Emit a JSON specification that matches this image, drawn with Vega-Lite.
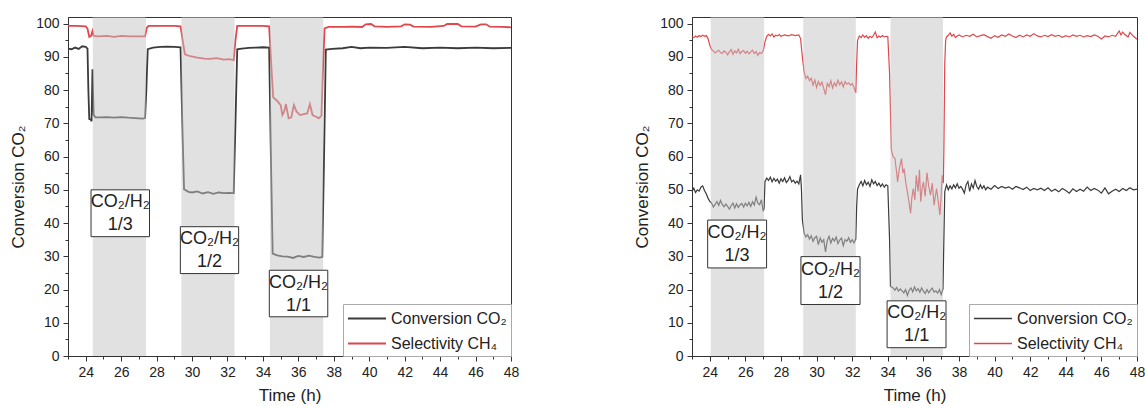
{
  "$schema": "https://vega.github.io/schema/vega-lite/v6.json",
  "padding": {"left": 9, "top": 16, "right": 5, "bottom": 2},
  "config": {
    "font": "Liberation Sans",
    "view": {"stroke": "#333", "strokeWidth": 1},
    "axis": {"labelFont": "Liberation Sans", "titleFont": "Liberation Sans", "labelFontSize": 14, "titleFontSize": 17, "titleFontWeight": "normal", "labelColor": "#222", "titleColor": "#222", "tickColor": "#333", "domainColor": "#333", "grid": false, "labelFlush": false, "labelOverlap": false},
    "legend": {"labelFont": "Liberation Sans"}
  },
  "datasets": {
    "left": [
      {"t":23.0,"v":92.5,"s":"Conversion CO₂"},{"t":23.2,"v":92.3,"s":"Conversion CO₂"},{"t":23.4,"v":92.8,"s":"Conversion CO₂"},{"t":23.6,"v":92.4,"s":"Conversion CO₂"},{"t":23.8,"v":93.2,"s":"Conversion CO₂"},{"t":24.0,"v":93.0,"s":"Conversion CO₂"},{"t":24.1,"v":92.5,"s":"Conversion CO₂"},{"t":24.15,"v":80,"s":"Conversion CO₂"},{"t":24.2,"v":71.3,"s":"Conversion CO₂"},{"t":24.28,"v":71.2,"s":"Conversion CO₂"},{"t":24.33,"v":70.6,"s":"Conversion CO₂"},{"t":24.38,"v":86.3,"s":"Conversion CO₂"},{"t":24.45,"v":72.5,"s":"Conversion CO₂"},{"t":24.55,"v":71.8,"s":"Conversion CO₂"},{"t":24.8,"v":71.8,"s":"Conversion CO₂"},{"t":25.2,"v":71.9,"s":"Conversion CO₂"},{"t":25.6,"v":71.7,"s":"Conversion CO₂"},{"t":26.0,"v":71.9,"s":"Conversion CO₂"},{"t":26.4,"v":71.7,"s":"Conversion CO₂"},{"t":26.8,"v":71.6,"s":"Conversion CO₂"},{"t":27.2,"v":71.4,"s":"Conversion CO₂"},{"t":27.35,"v":71.6,"s":"Conversion CO₂"},{"t":27.42,"v":80,"s":"Conversion CO₂"},{"t":27.5,"v":92.3,"s":"Conversion CO₂"},{"t":27.8,"v":92.8,"s":"Conversion CO₂"},{"t":28.2,"v":93.0,"s":"Conversion CO₂"},{"t":28.6,"v":93.1,"s":"Conversion CO₂"},{"t":29.0,"v":93.0,"s":"Conversion CO₂"},{"t":29.35,"v":92.9,"s":"Conversion CO₂"},{"t":29.45,"v":70,"s":"Conversion CO₂"},{"t":29.55,"v":50.2,"s":"Conversion CO₂"},{"t":29.8,"v":49.4,"s":"Conversion CO₂"},{"t":30.0,"v":49.2,"s":"Conversion CO₂"},{"t":30.3,"v":49.5,"s":"Conversion CO₂"},{"t":30.6,"v":48.9,"s":"Conversion CO₂"},{"t":30.9,"v":49.3,"s":"Conversion CO₂"},{"t":31.2,"v":48.8,"s":"Conversion CO₂"},{"t":31.5,"v":49.2,"s":"Conversion CO₂"},{"t":31.8,"v":49.0,"s":"Conversion CO₂"},{"t":32.1,"v":49.1,"s":"Conversion CO₂"},{"t":32.35,"v":49.0,"s":"Conversion CO₂"},{"t":32.45,"v":70,"s":"Conversion CO₂"},{"t":32.55,"v":92.3,"s":"Conversion CO₂"},{"t":32.8,"v":92.5,"s":"Conversion CO₂"},{"t":33.2,"v":92.7,"s":"Conversion CO₂"},{"t":33.6,"v":92.8,"s":"Conversion CO₂"},{"t":34.0,"v":92.9,"s":"Conversion CO₂"},{"t":34.35,"v":92.8,"s":"Conversion CO₂"},{"t":34.45,"v":60,"s":"Conversion CO₂"},{"t":34.55,"v":30.8,"s":"Conversion CO₂"},{"t":34.8,"v":30.3,"s":"Conversion CO₂"},{"t":35.1,"v":30.0,"s":"Conversion CO₂"},{"t":35.4,"v":29.9,"s":"Conversion CO₂"},{"t":35.7,"v":29.5,"s":"Conversion CO₂"},{"t":36.0,"v":30.1,"s":"Conversion CO₂"},{"t":36.3,"v":29.8,"s":"Conversion CO₂"},{"t":36.6,"v":30.2,"s":"Conversion CO₂"},{"t":36.9,"v":29.8,"s":"Conversion CO₂"},{"t":37.2,"v":29.6,"s":"Conversion CO₂"},{"t":37.35,"v":29.8,"s":"Conversion CO₂"},{"t":37.45,"v":60,"s":"Conversion CO₂"},{"t":37.55,"v":92.2,"s":"Conversion CO₂"},{"t":37.9,"v":92.4,"s":"Conversion CO₂"},{"t":38.5,"v":92.6,"s":"Conversion CO₂"},{"t":39.0,"v":93.0,"s":"Conversion CO₂"},{"t":39.5,"v":92.6,"s":"Conversion CO₂"},{"t":40.0,"v":92.8,"s":"Conversion CO₂"},{"t":41.0,"v":92.7,"s":"Conversion CO₂"},{"t":42.0,"v":93.0,"s":"Conversion CO₂"},{"t":43.0,"v":92.6,"s":"Conversion CO₂"},{"t":44.0,"v":92.8,"s":"Conversion CO₂"},{"t":45.0,"v":92.6,"s":"Conversion CO₂"},{"t":46.0,"v":92.8,"s":"Conversion CO₂"},{"t":47.0,"v":92.6,"s":"Conversion CO₂"},{"t":48.0,"v":92.7,"s":"Conversion CO₂"},
      {"t":23.0,"v":99.3,"s":"Selectivity CH₄"},{"t":23.5,"v":99.3,"s":"Selectivity CH₄"},{"t":24.0,"v":99.2,"s":"Selectivity CH₄"},{"t":24.1,"v":98.5,"s":"Selectivity CH₄"},{"t":24.2,"v":96.0,"s":"Selectivity CH₄"},{"t":24.3,"v":96.3,"s":"Selectivity CH₄"},{"t":24.38,"v":97.8,"s":"Selectivity CH₄"},{"t":24.45,"v":96.3,"s":"Selectivity CH₄"},{"t":24.7,"v":96.2,"s":"Selectivity CH₄"},{"t":25.2,"v":96.3,"s":"Selectivity CH₄"},{"t":25.6,"v":96.0,"s":"Selectivity CH₄"},{"t":26.0,"v":96.3,"s":"Selectivity CH₄"},{"t":26.5,"v":96.2,"s":"Selectivity CH₄"},{"t":27.0,"v":96.2,"s":"Selectivity CH₄"},{"t":27.35,"v":96.2,"s":"Selectivity CH₄"},{"t":27.45,"v":98.8,"s":"Selectivity CH₄"},{"t":27.55,"v":99.3,"s":"Selectivity CH₄"},{"t":28.0,"v":99.3,"s":"Selectivity CH₄"},{"t":28.5,"v":99.3,"s":"Selectivity CH₄"},{"t":29.0,"v":99.3,"s":"Selectivity CH₄"},{"t":29.35,"v":99.2,"s":"Selectivity CH₄"},{"t":29.5,"v":94,"s":"Selectivity CH₄"},{"t":29.6,"v":90.8,"s":"Selectivity CH₄"},{"t":29.9,"v":90.2,"s":"Selectivity CH₄"},{"t":30.3,"v":89.8,"s":"Selectivity CH₄"},{"t":30.7,"v":89.5,"s":"Selectivity CH₄"},{"t":31.0,"v":89.4,"s":"Selectivity CH₄"},{"t":31.4,"v":89.6,"s":"Selectivity CH₄"},{"t":31.8,"v":89.2,"s":"Selectivity CH₄"},{"t":32.1,"v":89.3,"s":"Selectivity CH₄"},{"t":32.35,"v":89.0,"s":"Selectivity CH₄"},{"t":32.45,"v":95,"s":"Selectivity CH₄"},{"t":32.55,"v":99.3,"s":"Selectivity CH₄"},{"t":33.0,"v":99.3,"s":"Selectivity CH₄"},{"t":33.5,"v":99.3,"s":"Selectivity CH₄"},{"t":34.0,"v":99.3,"s":"Selectivity CH₄"},{"t":34.35,"v":99.2,"s":"Selectivity CH₄"},{"t":34.5,"v":85,"s":"Selectivity CH₄"},{"t":34.58,"v":77.8,"s":"Selectivity CH₄"},{"t":34.8,"v":76.8,"s":"Selectivity CH₄"},{"t":35.0,"v":75.5,"s":"Selectivity CH₄"},{"t":35.1,"v":72.5,"s":"Selectivity CH₄"},{"t":35.2,"v":73.5,"s":"Selectivity CH₄"},{"t":35.3,"v":75.8,"s":"Selectivity CH₄"},{"t":35.45,"v":71.5,"s":"Selectivity CH₄"},{"t":35.6,"v":71.8,"s":"Selectivity CH₄"},{"t":35.75,"v":75.5,"s":"Selectivity CH₄"},{"t":35.9,"v":73.5,"s":"Selectivity CH₄"},{"t":36.1,"v":72.5,"s":"Selectivity CH₄"},{"t":36.3,"v":72.8,"s":"Selectivity CH₄"},{"t":36.5,"v":73.0,"s":"Selectivity CH₄"},{"t":36.65,"v":75.8,"s":"Selectivity CH₄"},{"t":36.8,"v":72.5,"s":"Selectivity CH₄"},{"t":37.0,"v":72.0,"s":"Selectivity CH₄"},{"t":37.15,"v":71.5,"s":"Selectivity CH₄"},{"t":37.3,"v":72.3,"s":"Selectivity CH₄"},{"t":37.38,"v":85,"s":"Selectivity CH₄"},{"t":37.48,"v":98.6,"s":"Selectivity CH₄"},{"t":37.7,"v":99.0,"s":"Selectivity CH₄"},{"t":38.5,"v":99.0,"s":"Selectivity CH₄"},{"t":39.0,"v":99.1,"s":"Selectivity CH₄"},{"t":39.6,"v":99.0,"s":"Selectivity CH₄"},{"t":39.8,"v":99.8,"s":"Selectivity CH₄"},{"t":40.1,"v":99.9,"s":"Selectivity CH₄"},{"t":40.3,"v":99.2,"s":"Selectivity CH₄"},{"t":41.0,"v":99.0,"s":"Selectivity CH₄"},{"t":41.8,"v":99.2,"s":"Selectivity CH₄"},{"t":42.0,"v":99.8,"s":"Selectivity CH₄"},{"t":42.3,"v":99.7,"s":"Selectivity CH₄"},{"t":42.5,"v":99.1,"s":"Selectivity CH₄"},{"t":43.5,"v":99.0,"s":"Selectivity CH₄"},{"t":44.2,"v":99.3,"s":"Selectivity CH₄"},{"t":44.4,"v":99.9,"s":"Selectivity CH₄"},{"t":45.0,"v":99.9,"s":"Selectivity CH₄"},{"t":45.2,"v":99.2,"s":"Selectivity CH₄"},{"t":46.0,"v":99.1,"s":"Selectivity CH₄"},{"t":46.3,"v":99.8,"s":"Selectivity CH₄"},{"t":46.6,"v":99.8,"s":"Selectivity CH₄"},{"t":46.8,"v":99.1,"s":"Selectivity CH₄"},{"t":47.5,"v":99.0,"s":"Selectivity CH₄"},{"t":48.0,"v":98.9,"s":"Selectivity CH₄"}
    ],
    "right": [
      {"t":23.0,"v":49.5,"s":"Conversion CO₂"},{"t":23.1,"v":50.5,"s":"Conversion CO₂"},{"t":23.2,"v":49.2,"s":"Conversion CO₂"},{"t":23.3,"v":50.0,"s":"Conversion CO₂"},{"t":23.4,"v":49.6,"s":"Conversion CO₂"},{"t":23.5,"v":50.8,"s":"Conversion CO₂"},{"t":23.6,"v":51.2,"s":"Conversion CO₂"},{"t":23.7,"v":49.8,"s":"Conversion CO₂"},{"t":23.8,"v":48.8,"s":"Conversion CO₂"},{"t":23.9,"v":47.5,"s":"Conversion CO₂"},{"t":24.0,"v":46.5,"s":"Conversion CO₂"},{"t":24.1,"v":46.0,"s":"Conversion CO₂"},{"t":24.2,"v":44.8,"s":"Conversion CO₂"},{"t":24.3,"v":45.6,"s":"Conversion CO₂"},{"t":24.4,"v":46.5,"s":"Conversion CO₂"},{"t":24.5,"v":45.3,"s":"Conversion CO₂"},{"t":24.6,"v":46.8,"s":"Conversion CO₂"},{"t":24.7,"v":45.6,"s":"Conversion CO₂"},{"t":24.8,"v":44.9,"s":"Conversion CO₂"},{"t":24.9,"v":45.7,"s":"Conversion CO₂"},{"t":25.0,"v":45.0,"s":"Conversion CO₂"},{"t":25.1,"v":44.2,"s":"Conversion CO₂"},{"t":25.2,"v":45.2,"s":"Conversion CO₂"},{"t":25.3,"v":46.0,"s":"Conversion CO₂"},{"t":25.4,"v":44.5,"s":"Conversion CO₂"},{"t":25.5,"v":45.8,"s":"Conversion CO₂"},{"t":25.6,"v":44.7,"s":"Conversion CO₂"},{"t":25.7,"v":45.5,"s":"Conversion CO₂"},{"t":25.8,"v":45.9,"s":"Conversion CO₂"},{"t":25.9,"v":44.8,"s":"Conversion CO₂"},{"t":26.0,"v":46.0,"s":"Conversion CO₂"},{"t":26.1,"v":45.2,"s":"Conversion CO₂"},{"t":26.2,"v":46.2,"s":"Conversion CO₂"},{"t":26.3,"v":45.0,"s":"Conversion CO₂"},{"t":26.4,"v":46.4,"s":"Conversion CO₂"},{"t":26.5,"v":45.4,"s":"Conversion CO₂"},{"t":26.6,"v":47.8,"s":"Conversion CO₂"},{"t":26.7,"v":46.0,"s":"Conversion CO₂"},{"t":26.8,"v":45.5,"s":"Conversion CO₂"},{"t":26.9,"v":47.0,"s":"Conversion CO₂"},{"t":27.0,"v":43.5,"s":"Conversion CO₂"},{"t":27.05,"v":44.5,"s":"Conversion CO₂"},{"t":27.1,"v":52.5,"s":"Conversion CO₂"},{"t":27.2,"v":53.5,"s":"Conversion CO₂"},{"t":27.3,"v":52.8,"s":"Conversion CO₂"},{"t":27.4,"v":53.8,"s":"Conversion CO₂"},{"t":27.5,"v":52.4,"s":"Conversion CO₂"},{"t":27.6,"v":53.5,"s":"Conversion CO₂"},{"t":27.7,"v":52.6,"s":"Conversion CO₂"},{"t":27.8,"v":53.2,"s":"Conversion CO₂"},{"t":27.9,"v":52.0,"s":"Conversion CO₂"},{"t":28.0,"v":53.3,"s":"Conversion CO₂"},{"t":28.1,"v":52.5,"s":"Conversion CO₂"},{"t":28.2,"v":53.6,"s":"Conversion CO₂"},{"t":28.3,"v":52.2,"s":"Conversion CO₂"},{"t":28.4,"v":52.8,"s":"Conversion CO₂"},{"t":28.5,"v":54.0,"s":"Conversion CO₂"},{"t":28.6,"v":52.4,"s":"Conversion CO₂"},{"t":28.7,"v":52.9,"s":"Conversion CO₂"},{"t":28.8,"v":52.0,"s":"Conversion CO₂"},{"t":28.9,"v":52.6,"s":"Conversion CO₂"},{"t":29.0,"v":51.8,"s":"Conversion CO₂"},{"t":29.1,"v":54.5,"s":"Conversion CO₂"},{"t":29.15,"v":50.0,"s":"Conversion CO₂"},{"t":29.2,"v":41.0,"s":"Conversion CO₂"},{"t":29.3,"v":37.0,"s":"Conversion CO₂"},{"t":29.4,"v":35.8,"s":"Conversion CO₂"},{"t":29.5,"v":36.5,"s":"Conversion CO₂"},{"t":29.6,"v":35.2,"s":"Conversion CO₂"},{"t":29.7,"v":36.2,"s":"Conversion CO₂"},{"t":29.8,"v":34.5,"s":"Conversion CO₂"},{"t":29.9,"v":35.6,"s":"Conversion CO₂"},{"t":30.0,"v":36.0,"s":"Conversion CO₂"},{"t":30.1,"v":33.5,"s":"Conversion CO₂"},{"t":30.2,"v":35.5,"s":"Conversion CO₂"},{"t":30.3,"v":34.2,"s":"Conversion CO₂"},{"t":30.4,"v":35.0,"s":"Conversion CO₂"},{"t":30.5,"v":31.3,"s":"Conversion CO₂"},{"t":30.6,"v":34.8,"s":"Conversion CO₂"},{"t":30.7,"v":36.0,"s":"Conversion CO₂"},{"t":30.8,"v":34.0,"s":"Conversion CO₂"},{"t":30.9,"v":35.4,"s":"Conversion CO₂"},{"t":31.0,"v":34.6,"s":"Conversion CO₂"},{"t":31.1,"v":35.8,"s":"Conversion CO₂"},{"t":31.2,"v":33.8,"s":"Conversion CO₂"},{"t":31.3,"v":34.9,"s":"Conversion CO₂"},{"t":31.4,"v":35.5,"s":"Conversion CO₂"},{"t":31.5,"v":33.2,"s":"Conversion CO₂"},{"t":31.6,"v":35.0,"s":"Conversion CO₂"},{"t":31.7,"v":34.5,"s":"Conversion CO₂"},{"t":31.8,"v":35.6,"s":"Conversion CO₂"},{"t":31.9,"v":34.2,"s":"Conversion CO₂"},{"t":32.0,"v":35.0,"s":"Conversion CO₂"},{"t":32.1,"v":34.0,"s":"Conversion CO₂"},{"t":32.2,"v":35.2,"s":"Conversion CO₂"},{"t":32.25,"v":45.0,"s":"Conversion CO₂"},{"t":32.3,"v":50.2,"s":"Conversion CO₂"},{"t":32.4,"v":51.5,"s":"Conversion CO₂"},{"t":32.5,"v":52.5,"s":"Conversion CO₂"},{"t":32.6,"v":51.2,"s":"Conversion CO₂"},{"t":32.7,"v":52.8,"s":"Conversion CO₂"},{"t":32.8,"v":51.5,"s":"Conversion CO₂"},{"t":32.9,"v":52.3,"s":"Conversion CO₂"},{"t":33.0,"v":51.0,"s":"Conversion CO₂"},{"t":33.1,"v":53.0,"s":"Conversion CO₂"},{"t":33.2,"v":51.8,"s":"Conversion CO₂"},{"t":33.3,"v":52.5,"s":"Conversion CO₂"},{"t":33.4,"v":51.3,"s":"Conversion CO₂"},{"t":33.5,"v":52.0,"s":"Conversion CO₂"},{"t":33.6,"v":51.0,"s":"Conversion CO₂"},{"t":33.7,"v":51.8,"s":"Conversion CO₂"},{"t":33.8,"v":50.8,"s":"Conversion CO₂"},{"t":33.9,"v":51.5,"s":"Conversion CO₂"},{"t":34.0,"v":51.2,"s":"Conversion CO₂"},{"t":34.1,"v":35.0,"s":"Conversion CO₂"},{"t":34.15,"v":21.0,"s":"Conversion CO₂"},{"t":34.3,"v":20.5,"s":"Conversion CO₂"},{"t":34.4,"v":19.8,"s":"Conversion CO₂"},{"t":34.5,"v":20.6,"s":"Conversion CO₂"},{"t":34.6,"v":19.5,"s":"Conversion CO₂"},{"t":34.7,"v":20.2,"s":"Conversion CO₂"},{"t":34.8,"v":19.6,"s":"Conversion CO₂"},{"t":34.9,"v":19.0,"s":"Conversion CO₂"},{"t":35.0,"v":20.0,"s":"Conversion CO₂"},{"t":35.1,"v":18.2,"s":"Conversion CO₂"},{"t":35.2,"v":19.8,"s":"Conversion CO₂"},{"t":35.3,"v":20.5,"s":"Conversion CO₂"},{"t":35.4,"v":19.3,"s":"Conversion CO₂"},{"t":35.5,"v":20.8,"s":"Conversion CO₂"},{"t":35.6,"v":19.6,"s":"Conversion CO₂"},{"t":35.7,"v":20.3,"s":"Conversion CO₂"},{"t":35.8,"v":19.2,"s":"Conversion CO₂"},{"t":35.9,"v":20.5,"s":"Conversion CO₂"},{"t":36.0,"v":19.5,"s":"Conversion CO₂"},{"t":36.1,"v":18.8,"s":"Conversion CO₂"},{"t":36.2,"v":20.0,"s":"Conversion CO₂"},{"t":36.3,"v":19.0,"s":"Conversion CO₂"},{"t":36.4,"v":19.8,"s":"Conversion CO₂"},{"t":36.5,"v":20.4,"s":"Conversion CO₂"},{"t":36.6,"v":19.2,"s":"Conversion CO₂"},{"t":36.7,"v":19.6,"s":"Conversion CO₂"},{"t":36.8,"v":18.9,"s":"Conversion CO₂"},{"t":36.9,"v":20.0,"s":"Conversion CO₂"},{"t":37.0,"v":18.5,"s":"Conversion CO₂"},{"t":37.1,"v":20.2,"s":"Conversion CO₂"},{"t":37.15,"v":35.0,"s":"Conversion CO₂"},{"t":37.2,"v":49.5,"s":"Conversion CO₂"},{"t":37.3,"v":51.5,"s":"Conversion CO₂"},{"t":37.4,"v":50.0,"s":"Conversion CO₂"},{"t":37.5,"v":51.2,"s":"Conversion CO₂"},{"t":37.6,"v":50.3,"s":"Conversion CO₂"},{"t":37.7,"v":51.5,"s":"Conversion CO₂"},{"t":37.8,"v":50.6,"s":"Conversion CO₂"},{"t":37.9,"v":51.8,"s":"Conversion CO₂"},{"t":38.0,"v":50.5,"s":"Conversion CO₂"},{"t":38.1,"v":51.0,"s":"Conversion CO₂"},{"t":38.2,"v":50.2,"s":"Conversion CO₂"},{"t":38.3,"v":49.0,"s":"Conversion CO₂"},{"t":38.4,"v":51.5,"s":"Conversion CO₂"},{"t":38.5,"v":52.5,"s":"Conversion CO₂"},{"t":38.6,"v":49.5,"s":"Conversion CO₂"},{"t":38.7,"v":51.8,"s":"Conversion CO₂"},{"t":38.8,"v":50.5,"s":"Conversion CO₂"},{"t":38.9,"v":52.8,"s":"Conversion CO₂"},{"t":39.0,"v":51.0,"s":"Conversion CO₂"},{"t":39.1,"v":50.2,"s":"Conversion CO₂"},{"t":39.2,"v":51.5,"s":"Conversion CO₂"},{"t":39.3,"v":50.4,"s":"Conversion CO₂"},{"t":39.4,"v":51.2,"s":"Conversion CO₂"},{"t":39.5,"v":50.0,"s":"Conversion CO₂"},{"t":39.6,"v":50.8,"s":"Conversion CO₂"},{"t":39.8,"v":50.2,"s":"Conversion CO₂"},{"t":40.0,"v":51.3,"s":"Conversion CO₂"},{"t":40.2,"v":50.4,"s":"Conversion CO₂"},{"t":40.4,"v":51.0,"s":"Conversion CO₂"},{"t":40.6,"v":50.5,"s":"Conversion CO₂"},{"t":40.8,"v":50.9,"s":"Conversion CO₂"},{"t":41.0,"v":50.2,"s":"Conversion CO₂"},{"t":41.2,"v":51.0,"s":"Conversion CO₂"},{"t":41.4,"v":50.6,"s":"Conversion CO₂"},{"t":41.6,"v":50.1,"s":"Conversion CO₂"},{"t":41.8,"v":50.8,"s":"Conversion CO₂"},{"t":42.0,"v":49.8,"s":"Conversion CO₂"},{"t":42.2,"v":50.4,"s":"Conversion CO₂"},{"t":42.4,"v":50.0,"s":"Conversion CO₂"},{"t":42.6,"v":50.5,"s":"Conversion CO₂"},{"t":42.8,"v":49.8,"s":"Conversion CO₂"},{"t":43.0,"v":50.6,"s":"Conversion CO₂"},{"t":43.2,"v":49.6,"s":"Conversion CO₂"},{"t":43.4,"v":50.2,"s":"Conversion CO₂"},{"t":43.6,"v":49.4,"s":"Conversion CO₂"},{"t":43.8,"v":50.4,"s":"Conversion CO₂"},{"t":44.0,"v":49.8,"s":"Conversion CO₂"},{"t":44.2,"v":49.0,"s":"Conversion CO₂"},{"t":44.4,"v":50.3,"s":"Conversion CO₂"},{"t":44.6,"v":49.5,"s":"Conversion CO₂"},{"t":44.8,"v":50.2,"s":"Conversion CO₂"},{"t":45.0,"v":49.6,"s":"Conversion CO₂"},{"t":45.2,"v":50.8,"s":"Conversion CO₂"},{"t":45.4,"v":49.8,"s":"Conversion CO₂"},{"t":45.6,"v":50.4,"s":"Conversion CO₂"},{"t":45.8,"v":49.9,"s":"Conversion CO₂"},{"t":46.0,"v":49.0,"s":"Conversion CO₂"},{"t":46.2,"v":50.6,"s":"Conversion CO₂"},{"t":46.4,"v":48.8,"s":"Conversion CO₂"},{"t":46.6,"v":49.6,"s":"Conversion CO₂"},{"t":46.8,"v":50.2,"s":"Conversion CO₂"},{"t":47.0,"v":49.5,"s":"Conversion CO₂"},{"t":47.2,"v":50.4,"s":"Conversion CO₂"},{"t":47.4,"v":49.8,"s":"Conversion CO₂"},{"t":47.6,"v":50.6,"s":"Conversion CO₂"},{"t":47.8,"v":50.0,"s":"Conversion CO₂"},{"t":48.0,"v":50.2,"s":"Conversion CO₂"},
      {"t":23.0,"v":96.0,"s":"Selectivity CH₄"},{"t":23.1,"v":95.8,"s":"Selectivity CH₄"},{"t":23.2,"v":96.3,"s":"Selectivity CH₄"},{"t":23.3,"v":95.9,"s":"Selectivity CH₄"},{"t":23.4,"v":96.4,"s":"Selectivity CH₄"},{"t":23.5,"v":96.1,"s":"Selectivity CH₄"},{"t":23.6,"v":96.5,"s":"Selectivity CH₄"},{"t":23.7,"v":96.2,"s":"Selectivity CH₄"},{"t":23.8,"v":96.4,"s":"Selectivity CH₄"},{"t":23.9,"v":95.5,"s":"Selectivity CH₄"},{"t":24.0,"v":93.5,"s":"Selectivity CH₄"},{"t":24.1,"v":92.2,"s":"Selectivity CH₄"},{"t":24.2,"v":91.8,"s":"Selectivity CH₄"},{"t":24.3,"v":91.2,"s":"Selectivity CH₄"},{"t":24.4,"v":91.6,"s":"Selectivity CH₄"},{"t":24.5,"v":92.0,"s":"Selectivity CH₄"},{"t":24.6,"v":91.3,"s":"Selectivity CH₄"},{"t":24.7,"v":91.0,"s":"Selectivity CH₄"},{"t":24.8,"v":91.8,"s":"Selectivity CH₄"},{"t":24.9,"v":91.4,"s":"Selectivity CH₄"},{"t":25.0,"v":90.6,"s":"Selectivity CH₄"},{"t":25.1,"v":91.5,"s":"Selectivity CH₄"},{"t":25.2,"v":92.2,"s":"Selectivity CH₄"},{"t":25.3,"v":90.8,"s":"Selectivity CH₄"},{"t":25.4,"v":91.8,"s":"Selectivity CH₄"},{"t":25.5,"v":91.2,"s":"Selectivity CH₄"},{"t":25.6,"v":92.3,"s":"Selectivity CH₄"},{"t":25.7,"v":91.0,"s":"Selectivity CH₄"},{"t":25.8,"v":91.6,"s":"Selectivity CH₄"},{"t":25.9,"v":91.9,"s":"Selectivity CH₄"},{"t":26.0,"v":91.1,"s":"Selectivity CH₄"},{"t":26.1,"v":91.7,"s":"Selectivity CH₄"},{"t":26.2,"v":90.9,"s":"Selectivity CH₄"},{"t":26.3,"v":91.5,"s":"Selectivity CH₄"},{"t":26.4,"v":92.0,"s":"Selectivity CH₄"},{"t":26.5,"v":91.0,"s":"Selectivity CH₄"},{"t":26.6,"v":91.6,"s":"Selectivity CH₄"},{"t":26.7,"v":90.5,"s":"Selectivity CH₄"},{"t":26.8,"v":91.3,"s":"Selectivity CH₄"},{"t":26.9,"v":91.0,"s":"Selectivity CH₄"},{"t":27.0,"v":91.8,"s":"Selectivity CH₄"},{"t":27.1,"v":94.5,"s":"Selectivity CH₄"},{"t":27.2,"v":96.2,"s":"Selectivity CH₄"},{"t":27.3,"v":96.8,"s":"Selectivity CH₄"},{"t":27.4,"v":96.3,"s":"Selectivity CH₄"},{"t":27.5,"v":96.9,"s":"Selectivity CH₄"},{"t":27.6,"v":96.0,"s":"Selectivity CH₄"},{"t":27.7,"v":96.5,"s":"Selectivity CH₄"},{"t":27.8,"v":96.3,"s":"Selectivity CH₄"},{"t":27.9,"v":96.7,"s":"Selectivity CH₄"},{"t":28.0,"v":96.2,"s":"Selectivity CH₄"},{"t":28.2,"v":96.6,"s":"Selectivity CH₄"},{"t":28.4,"v":96.3,"s":"Selectivity CH₄"},{"t":28.6,"v":96.7,"s":"Selectivity CH₄"},{"t":28.8,"v":96.4,"s":"Selectivity CH₄"},{"t":29.0,"v":96.6,"s":"Selectivity CH₄"},{"t":29.1,"v":95.5,"s":"Selectivity CH₄"},{"t":29.2,"v":90.0,"s":"Selectivity CH₄"},{"t":29.3,"v":85.5,"s":"Selectivity CH₄"},{"t":29.4,"v":83.5,"s":"Selectivity CH₄"},{"t":29.5,"v":84.2,"s":"Selectivity CH₄"},{"t":29.6,"v":82.8,"s":"Selectivity CH₄"},{"t":29.7,"v":83.6,"s":"Selectivity CH₄"},{"t":29.8,"v":81.5,"s":"Selectivity CH₄"},{"t":29.9,"v":83.0,"s":"Selectivity CH₄"},{"t":30.0,"v":80.8,"s":"Selectivity CH₄"},{"t":30.1,"v":82.6,"s":"Selectivity CH₄"},{"t":30.2,"v":81.4,"s":"Selectivity CH₄"},{"t":30.3,"v":82.4,"s":"Selectivity CH₄"},{"t":30.4,"v":80.5,"s":"Selectivity CH₄"},{"t":30.5,"v":78.6,"s":"Selectivity CH₄"},{"t":30.6,"v":82.0,"s":"Selectivity CH₄"},{"t":30.7,"v":81.0,"s":"Selectivity CH₄"},{"t":30.8,"v":82.8,"s":"Selectivity CH₄"},{"t":30.9,"v":80.6,"s":"Selectivity CH₄"},{"t":31.0,"v":82.2,"s":"Selectivity CH₄"},{"t":31.1,"v":81.2,"s":"Selectivity CH₄"},{"t":31.2,"v":83.0,"s":"Selectivity CH₄"},{"t":31.3,"v":81.6,"s":"Selectivity CH₄"},{"t":31.4,"v":82.5,"s":"Selectivity CH₄"},{"t":31.5,"v":81.0,"s":"Selectivity CH₄"},{"t":31.6,"v":82.6,"s":"Selectivity CH₄"},{"t":31.7,"v":81.8,"s":"Selectivity CH₄"},{"t":31.8,"v":82.2,"s":"Selectivity CH₄"},{"t":31.9,"v":81.5,"s":"Selectivity CH₄"},{"t":32.0,"v":82.0,"s":"Selectivity CH₄"},{"t":32.1,"v":80.8,"s":"Selectivity CH₄"},{"t":32.2,"v":79.2,"s":"Selectivity CH₄"},{"t":32.25,"v":88.0,"s":"Selectivity CH₄"},{"t":32.3,"v":95.0,"s":"Selectivity CH₄"},{"t":32.4,"v":96.3,"s":"Selectivity CH₄"},{"t":32.5,"v":95.8,"s":"Selectivity CH₄"},{"t":32.6,"v":96.6,"s":"Selectivity CH₄"},{"t":32.7,"v":95.9,"s":"Selectivity CH₄"},{"t":32.8,"v":96.4,"s":"Selectivity CH₄"},{"t":32.9,"v":95.6,"s":"Selectivity CH₄"},{"t":33.0,"v":96.2,"s":"Selectivity CH₄"},{"t":33.1,"v":95.8,"s":"Selectivity CH₄"},{"t":33.2,"v":96.5,"s":"Selectivity CH₄"},{"t":33.3,"v":97.5,"s":"Selectivity CH₄"},{"t":33.4,"v":95.8,"s":"Selectivity CH₄"},{"t":33.5,"v":96.3,"s":"Selectivity CH₄"},{"t":33.6,"v":95.9,"s":"Selectivity CH₄"},{"t":33.7,"v":96.4,"s":"Selectivity CH₄"},{"t":33.8,"v":96.0,"s":"Selectivity CH₄"},{"t":33.9,"v":96.2,"s":"Selectivity CH₄"},{"t":34.0,"v":96.1,"s":"Selectivity CH₄"},{"t":34.1,"v":85.0,"s":"Selectivity CH₄"},{"t":34.2,"v":62.0,"s":"Selectivity CH₄"},{"t":34.3,"v":60.0,"s":"Selectivity CH₄"},{"t":34.4,"v":59.5,"s":"Selectivity CH₄"},{"t":34.5,"v":55.0,"s":"Selectivity CH₄"},{"t":34.55,"v":52.4,"s":"Selectivity CH₄"},{"t":34.65,"v":56.5,"s":"Selectivity CH₄"},{"t":34.77,"v":59.4,"s":"Selectivity CH₄"},{"t":34.85,"v":55.0,"s":"Selectivity CH₄"},{"t":34.92,"v":56.4,"s":"Selectivity CH₄"},{"t":35.0,"v":52.5,"s":"Selectivity CH₄"},{"t":35.1,"v":49.4,"s":"Selectivity CH₄"},{"t":35.2,"v":46.0,"s":"Selectivity CH₄"},{"t":35.28,"v":42.9,"s":"Selectivity CH₄"},{"t":35.35,"v":47.5,"s":"Selectivity CH₄"},{"t":35.43,"v":50.4,"s":"Selectivity CH₄"},{"t":35.52,"v":47.0,"s":"Selectivity CH₄"},{"t":35.6,"v":54.4,"s":"Selectivity CH₄"},{"t":35.7,"v":49.5,"s":"Selectivity CH₄"},{"t":35.78,"v":56.0,"s":"Selectivity CH₄"},{"t":35.85,"v":46.4,"s":"Selectivity CH₄"},{"t":35.93,"v":50.5,"s":"Selectivity CH₄"},{"t":36.0,"v":52.4,"s":"Selectivity CH₄"},{"t":36.1,"v":48.0,"s":"Selectivity CH₄"},{"t":36.2,"v":55.2,"s":"Selectivity CH₄"},{"t":36.3,"v":51.0,"s":"Selectivity CH₄"},{"t":36.4,"v":48.4,"s":"Selectivity CH₄"},{"t":36.5,"v":52.0,"s":"Selectivity CH₄"},{"t":36.6,"v":45.4,"s":"Selectivity CH₄"},{"t":36.67,"v":48.0,"s":"Selectivity CH₄"},{"t":36.74,"v":50.4,"s":"Selectivity CH₄"},{"t":36.82,"v":47.0,"s":"Selectivity CH₄"},{"t":36.93,"v":42.4,"s":"Selectivity CH₄"},{"t":37.0,"v":48.5,"s":"Selectivity CH₄"},{"t":37.06,"v":54.4,"s":"Selectivity CH₄"},{"t":37.12,"v":52.0,"s":"Selectivity CH₄"},{"t":37.15,"v":62.0,"s":"Selectivity CH₄"},{"t":37.2,"v":88.0,"s":"Selectivity CH₄"},{"t":37.25,"v":95.0,"s":"Selectivity CH₄"},{"t":37.3,"v":96.0,"s":"Selectivity CH₄"},{"t":37.4,"v":96.5,"s":"Selectivity CH₄"},{"t":37.5,"v":97.2,"s":"Selectivity CH₄"},{"t":37.6,"v":96.2,"s":"Selectivity CH₄"},{"t":37.7,"v":96.8,"s":"Selectivity CH₄"},{"t":37.8,"v":95.8,"s":"Selectivity CH₄"},{"t":37.9,"v":96.3,"s":"Selectivity CH₄"},{"t":38.0,"v":96.6,"s":"Selectivity CH₄"},{"t":38.2,"v":96.0,"s":"Selectivity CH₄"},{"t":38.4,"v":96.5,"s":"Selectivity CH₄"},{"t":38.6,"v":96.2,"s":"Selectivity CH₄"},{"t":38.8,"v":96.8,"s":"Selectivity CH₄"},{"t":39.0,"v":96.0,"s":"Selectivity CH₄"},{"t":39.2,"v":96.4,"s":"Selectivity CH₄"},{"t":39.4,"v":96.7,"s":"Selectivity CH₄"},{"t":39.6,"v":96.1,"s":"Selectivity CH₄"},{"t":39.8,"v":95.6,"s":"Selectivity CH₄"},{"t":40.0,"v":96.4,"s":"Selectivity CH₄"},{"t":40.2,"v":95.9,"s":"Selectivity CH₄"},{"t":40.4,"v":96.6,"s":"Selectivity CH₄"},{"t":40.6,"v":96.2,"s":"Selectivity CH₄"},{"t":40.8,"v":96.9,"s":"Selectivity CH₄"},{"t":41.0,"v":96.3,"s":"Selectivity CH₄"},{"t":41.2,"v":95.8,"s":"Selectivity CH₄"},{"t":41.4,"v":96.5,"s":"Selectivity CH₄"},{"t":41.6,"v":96.0,"s":"Selectivity CH₄"},{"t":41.8,"v":96.6,"s":"Selectivity CH₄"},{"t":42.0,"v":96.2,"s":"Selectivity CH₄"},{"t":42.2,"v":97.0,"s":"Selectivity CH₄"},{"t":42.4,"v":96.3,"s":"Selectivity CH₄"},{"t":42.6,"v":96.0,"s":"Selectivity CH₄"},{"t":42.8,"v":96.5,"s":"Selectivity CH₄"},{"t":43.0,"v":96.1,"s":"Selectivity CH₄"},{"t":43.2,"v":96.7,"s":"Selectivity CH₄"},{"t":43.4,"v":96.2,"s":"Selectivity CH₄"},{"t":43.6,"v":96.5,"s":"Selectivity CH₄"},{"t":43.8,"v":95.9,"s":"Selectivity CH₄"},{"t":44.0,"v":96.4,"s":"Selectivity CH₄"},{"t":44.2,"v":96.0,"s":"Selectivity CH₄"},{"t":44.4,"v":96.6,"s":"Selectivity CH₄"},{"t":44.6,"v":96.2,"s":"Selectivity CH₄"},{"t":44.8,"v":96.5,"s":"Selectivity CH₄"},{"t":45.0,"v":96.0,"s":"Selectivity CH₄"},{"t":45.2,"v":96.4,"s":"Selectivity CH₄"},{"t":45.4,"v":96.1,"s":"Selectivity CH₄"},{"t":45.6,"v":96.6,"s":"Selectivity CH₄"},{"t":45.8,"v":96.2,"s":"Selectivity CH₄"},{"t":46.0,"v":95.4,"s":"Selectivity CH₄"},{"t":46.2,"v":96.3,"s":"Selectivity CH₄"},{"t":46.4,"v":96.0,"s":"Selectivity CH₄"},{"t":46.6,"v":96.5,"s":"Selectivity CH₄"},{"t":46.8,"v":96.2,"s":"Selectivity CH₄"},{"t":47.0,"v":97.8,"s":"Selectivity CH₄"},{"t":47.1,"v":96.6,"s":"Selectivity CH₄"},{"t":47.2,"v":97.5,"s":"Selectivity CH₄"},{"t":47.3,"v":96.8,"s":"Selectivity CH₄"},{"t":47.5,"v":96.0,"s":"Selectivity CH₄"},{"t":47.6,"v":97.4,"s":"Selectivity CH₄"},{"t":47.8,"v":96.2,"s":"Selectivity CH₄"},{"t":48.0,"v":95.3,"s":"Selectivity CH₄"}
    ],
    "shadeL": [{"a":24.4,"b":27.4},{"a":29.4,"b":32.4},{"a":34.4,"b":37.4}],
    "shadeR": [{"a":24.05,"b":27.05},{"a":29.25,"b":32.2},{"a":34.15,"b":37.1}],
    "boxL": [
      {"x1":24.3,"x2":27.6,"y1":35.9,"y2":50.0,"cx":25.95,"cy":42.95,"label":"CO₂/H₂\n1/3"},
      {"x1":29.34,"x2":32.63,"y1":24.8,"y2":38.9,"cx":30.98,"cy":31.85,"label":"CO₂/H₂\n1/2"},
      {"x1":34.36,"x2":37.66,"y1":11.8,"y2":25.8,"cx":36.01,"cy":18.8,"label":"CO₂/H₂\n1/1"}
    ],
    "boxR": [
      {"x1":23.88,"x2":27.19,"y1":26.5,"y2":40.9,"cx":25.53,"cy":33.7,"label":"CO₂/H₂\n1/3"},
      {"x1":29.12,"x2":32.44,"y1":15.5,"y2":29.9,"cx":30.78,"cy":22.7,"label":"CO₂/H₂\n1/2"},
      {"x1":33.96,"x2":37.27,"y1":2.5,"y2":16.6,"cx":35.62,"cy":9.55,"label":"CO₂/H₂\n1/1"}
    ]
  },
  "spacing": 113,
  "resolve": {"scale": {"color": "independent"}, "legend": {"color": "independent"}},
  "hconcat": [
    {
      "width": 443, "height": 339,
      "resolve": {"axis": {"x": "independent", "y": "independent"}},
      "layer": [
        {
          "data": {"name": "left"},
          "mark": {"type": "line", "strokeWidth": 1.8},
          "encoding": {
            "x": {"field": "t", "type": "quantitative", "scale": {"domain": [23, 48], "nice": false, "zero": false}, "axis": {"title": "Time (h)", "values": [24,26,28,30,32,34,36,38,40,42,44,46,48], "tickSize": 5, "labelPadding": 4, "titlePadding": 8}},
            "y": {"field": "v", "type": "quantitative", "scale": {"domain": [0, 102], "nice": false}, "axis": {"title": "Conversion CO₂", "values": [0,10,20,30,40,50,60,70,80,90,100], "tickSize": 5, "labelPadding": 4, "titlePadding": 8}},
            "color": {"field": "s", "type": "nominal", "scale": {"domain": ["Conversion CO₂", "Selectivity CH₄"], "range": ["#3b3b3b", "#e0474c"]},
              "legend": {"orient": "bottom-right", "offset": 0, "title": null, "strokeColor": "#aaa", "fillColor": "white", "padding": 4, "labelFontSize": 16, "labelColor": "#222", "symbolType": "M-1,0H3", "symbolSize": 361, "symbolStrokeWidth": 2, "labelOffset": 23, "rowPadding": 6}}
          }
        },
        {
          "data": {"name": "shadeL"},
          "mark": {"type": "rect", "fill": "#c4c4c4", "opacity": 0.5},
          "encoding": {"x": {"field": "a", "type": "quantitative", "axis": null}, "x2": {"field": "b"}}
        },
        {
          "data": {"name": "boxL"},
          "mark": {"type": "rect", "fill": "white", "stroke": "#333", "strokeWidth": 1},
          "encoding": {
            "x": {"field": "x1", "type": "quantitative", "axis": {"orient": "bottom", "values": [23,25,27,29,31,33,35,37,39,41,43,45,47], "labels": false, "domain": false, "tickSize": 3, "title": null}},
            "x2": {"field": "x2"},
            "y": {"field": "y1", "type": "quantitative", "axis": {"orient": "left", "values": [5,15,25,35,45,55,65,75,85,95], "labels": false, "domain": false, "tickSize": 3, "title": null}},
            "y2": {"field": "y2"}
          }
        },
        {
          "data": {"name": "boxL"},
          "mark": {"type": "text", "lineBreak": "\n", "fontSize": 18, "lineHeight": 23, "dy": -11, "color": "#222", "baseline": "middle", "align": "center"},
          "encoding": {
            "x": {"field": "cx", "type": "quantitative", "axis": null},
            "y": {"field": "cy", "type": "quantitative", "axis": null},
            "text": {"field": "label"}
          }
        }
      ]
    },
    {
      "width": 445, "height": 339,
      "resolve": {"axis": {"x": "independent", "y": "independent"}},
      "layer": [
        {
          "data": {"name": "right"},
          "mark": {"type": "line", "strokeWidth": 1.2},
          "encoding": {
            "x": {"field": "t", "type": "quantitative", "scale": {"domain": [23, 48], "nice": false, "zero": false}, "axis": {"title": "Time (h)", "values": [24,26,28,30,32,34,36,38,40,42,44,46,48], "tickSize": 5, "labelPadding": 4, "titlePadding": 8}},
            "y": {"field": "v", "type": "quantitative", "scale": {"domain": [0, 102], "nice": false}, "axis": {"title": "Conversion CO₂", "values": [0,10,20,30,40,50,60,70,80,90,100], "tickSize": 5, "labelPadding": 4, "titlePadding": 8}},
            "color": {"field": "s", "type": "nominal", "scale": {"domain": ["Conversion CO₂", "Selectivity CH₄"], "range": ["#3b3b3b", "#e0474c"]},
              "legend": {"orient": "bottom-right", "offset": 0, "title": null, "strokeColor": "#aaa", "fillColor": "white", "padding": 4, "labelFontSize": 16, "labelColor": "#222", "symbolType": "M-1,0H3", "symbolSize": 361, "symbolStrokeWidth": 1.5, "labelOffset": 23, "rowPadding": 6}}
          }
        },
        {
          "data": {"name": "shadeR"},
          "mark": {"type": "rect", "fill": "#c4c4c4", "opacity": 0.5},
          "encoding": {"x": {"field": "a", "type": "quantitative", "axis": null}, "x2": {"field": "b"}}
        },
        {
          "data": {"name": "boxR"},
          "mark": {"type": "rect", "fill": "white", "stroke": "#333", "strokeWidth": 1},
          "encoding": {
            "x": {"field": "x1", "type": "quantitative", "axis": {"orient": "bottom", "values": [23,25,27,29,31,33,35,37,39,41,43,45,47], "labels": false, "domain": false, "tickSize": 3, "title": null}},
            "x2": {"field": "x2"},
            "y": {"field": "y1", "type": "quantitative", "axis": {"orient": "left", "values": [5,15,25,35,45,55,65,75,85,95], "labels": false, "domain": false, "tickSize": 3, "title": null}},
            "y2": {"field": "y2"}
          }
        },
        {
          "data": {"name": "boxR"},
          "mark": {"type": "text", "lineBreak": "\n", "fontSize": 18, "lineHeight": 23, "dy": -11, "color": "#222", "baseline": "middle", "align": "center"},
          "encoding": {
            "x": {"field": "cx", "type": "quantitative", "axis": null},
            "y": {"field": "cy", "type": "quantitative", "axis": null},
            "text": {"field": "label"}
          }
        }
      ]
    }
  ]
}
